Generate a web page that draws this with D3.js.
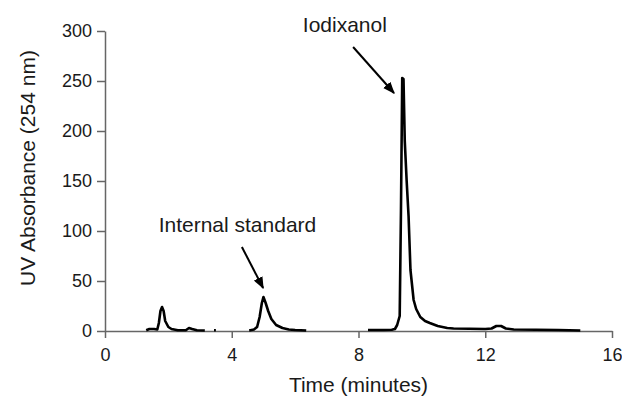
<!DOCTYPE html>
<html>
<head>
<meta charset="utf-8">
<script src="https://cdn.jsdelivr.net/npm/d3@7"></script>
<style>
  body { margin: 0; background: #fff; }
  text { font-family: "Liberation Sans", Arial, sans-serif; fill: #1a1a1a; }
</style>
</head>
<body>
<div id="chart"></div>
<script>
// chromatogram trace, null = trace hidden under the axis
const times = [1.30, 1.40, 1.55, 1.65, 1.70, 1.75, 1.80, 1.85, 1.90, 2.00, 2.10, 2.30, 2.55, 2.65, 2.75, 2.90, 3.15, 3.20,
  3.44, 3.50, 3.52,
  4.55, 4.70, 4.80, 4.88, 4.95, 5.00, 5.07, 5.15, 5.25, 5.40, 5.60, 5.80, 6.00, 6.35, 6.40,
  8.30, 8.80, 9.05, 9.15, 9.22, 9.30, 9.34, 9.38, 9.42, 9.46, 9.52, 9.58, 9.64, 9.74, 9.82, 9.95, 10.10, 10.25, 10.50,
  10.80, 11.00, 12.00, 12.20, 12.35, 12.50, 12.65, 12.90, 14.30, 15.00];
const absorbance = [0.8, 2, 2, 1.5, 8, 20, 24, 20, 10, 4, 2, 0.8, 0.8, 3, 2, 0.8, 0.5, null,
  0.8, 0.8, null,
  0.5, 1.5, 4, 14, 28, 34, 28, 20, 12, 6, 3, 1.5, 1, 0.5, null,
  1, 1, 1.2, 2, 6, 15, 120, 253, 252, 190, 150, 115, 61, 31, 22, 14, 10, 8, 5,
  3, 2.5, 2, 2.5, 5, 5, 2.5, 1.5, 1, 0.5];

const xTicks = [0, 4, 8, 12, 16];
const yTicks = [0, 50, 100, 150, 200, 250, 300];

// annotations: label position, arrow tail, arrow tip (data units)
const labels = [
  { text: 'Iodixanol', t: 7.57, v: 299, tail: [7.83, 284], tip: [9.12, 238] },
  { text: 'Internal standard', t: 4.18, v: 99, tail: [4.32, 84], tip: [4.99, 43] }
];

const width = 622, height = 397;
const margin = { top: 31, right: 10, bottom: 66, left: 105 };

const svg = d3.select('#chart').append('svg')
  .attr('width', width)
  .attr('height', height);

const x = d3.scaleLinear().domain([0, 16]).range([margin.left, width - margin.right]);
const y = d3.scaleLinear().domain([0, 300]).range([height - margin.bottom, margin.top]);

const xAxis = svg.append('g')
  .attr('transform', 'translate(0,' + y(0) + ')')
  .call(d3.axisBottom(x).tickValues(xTicks).tickSize(7).tickSizeOuter(0).tickPadding(10));

const yAxis = svg.append('g')
  .attr('transform', 'translate(' + x(0) + ',0)')
  .call(d3.axisLeft(y).tickValues(yTicks).tickSize(8).tickSizeOuter(0).tickPadding(5));

[xAxis, yAxis].forEach(g => {
  g.selectAll('path, line').attr('stroke', '#666').attr('stroke-width', 1.5);
  g.selectAll('text').attr('font-size', 18).attr('fill', '#1a1a1a')
    .attr('font-family', '"Liberation Sans", Arial, sans-serif');
});

const pts = times.map((t, i) => ({ t: t, v: absorbance[i] }));

const line = d3.line()
  .defined(d => d.v !== null)
  .x(d => x(d.t))
  .y(d => y(d.v));

svg.append('path')
  .datum(pts)
  .attr('fill', 'none')
  .attr('stroke', '#000')
  .attr('stroke-width', 2.6)
  .attr('stroke-linejoin', 'round')
  .attr('d', line);

svg.append('defs').append('marker')
  .attr('id', 'head')
  .attr('viewBox', '0 0 10 10')
  .attr('refX', 9).attr('refY', 5)
  .attr('markerWidth', 6).attr('markerHeight', 6)
  .attr('markerUnits', 'strokeWidth')
  .attr('orient', 'auto')
  .append('path')
  .attr('d', 'M0,1 L10,5 L0,9 Z')
  .attr('fill', '#000');

labels.forEach(a => {
  svg.append('text')
    .attr('x', x(a.t))
    .attr('y', y(a.v))
    .attr('text-anchor', 'middle')
    .attr('font-size', 21)
    .text(a.text);
  svg.append('line')
    .attr('x1', x(a.tail[0])).attr('y1', y(a.tail[1]))
    .attr('x2', x(a.tip[0])).attr('y2', y(a.tip[1]))
    .attr('stroke', '#000')
    .attr('stroke-width', 2)
    .attr('marker-end', 'url(#head)');
});

svg.append('text')
  .attr('x', x(8))
  .attr('y', 392)
  .attr('text-anchor', 'middle')
  .attr('font-size', 21)
  .text('Time (minutes)');

svg.append('text')
  .attr('transform', 'translate(35,' + y(163) + ') rotate(-90)')
  .attr('text-anchor', 'middle')
  .attr('font-size', 21)
  .text('UV Absorbance (254 nm)');
</script>
</body>
</html>
